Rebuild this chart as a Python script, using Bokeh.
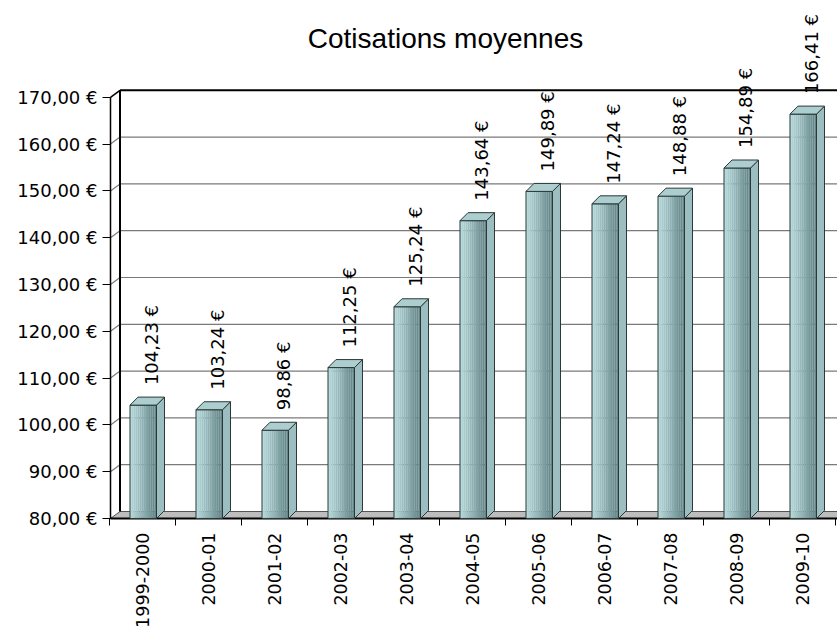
import numpy as np
from bokeh.plotting import figure
from bokeh.models import FixedTicker, Range1d, ColumnDataSource
from bokeh.core.properties import value
from bokeh.embed import file_html
from bokeh.resources import INLINE

# ---------------- data ----------------
title_text = "Cotisations moyennes"
categories = ["1999-2000", "2000-01", "2001-02", "2002-03", "2003-04", "2004-05",
              "2005-06", "2006-07", "2007-08", "2008-09", "2009-10"]
values = [104.23, 103.24, 98.86, 112.25, 125.24, 143.64, 149.89, 147.24, 148.88, 154.89, 166.41]
y_ticks = [80, 90, 100, 110, 120, 130, 140, 150, 160, 170]


def euro(v):
    return f"{v:.2f}".replace(".", ",") + " €"


# ---------------- layout (pixels) ----------------
W, H = 837, 632
frame_left = 108
origin_x = 109              # category 0 left edge
cat_px = 66.0               # pixels per category
y0_px = 518                 # pixel row of value 80
px_per_unit = 4.68          # pixels per euro

PX = 1.0 / cat_px
PY = 1.0 / px_per_unit
ymin = y_ticks[0]
ymax = y_ticks[-1]

x_start = (frame_left - origin_x) * PX
x_end = (W - origin_x) * PX
y_start = ymin - (H - y0_px) * PY
y_end = ymin + y0_px * PY

p = figure(width=W, height=H,
           x_range=Range1d(x_start, x_end), y_range=Range1d(y_start, y_end),
           output_backend="svg", toolbar_location=None,
           min_border_left=frame_left, min_border_right=0,
           min_border_top=0, min_border_bottom=0)
p.outline_line_color = None
p.grid.visible = False
p.background_fill_color = "white"
p.border_fill_color = "white"
p.xaxis.visible = False

# ---------------- y axis ----------------
ya = p.yaxis[0]
ya.ticker = FixedTicker(ticks=y_ticks, minor_ticks=[])
ya.major_label_overrides = {t: euro(t) for t in y_ticks}
ya.axis_line_color = None
ya.major_tick_out = 6
ya.major_tick_in = 2
ya.major_tick_line_color = "black"
ya.major_tick_line_width = 1
ya.minor_tick_line_color = None
ya.major_label_standoff = 5
ya.major_label_text_font = "DejaVu Sans"
ya.major_label_text_font_size = "18px"
ya.major_label_text_color = "black"

n = len(categories)
centers = [i + 0.5 for i in range(n)]
bounds = list(range(n + 1))

# ---------------- walls & floor ----------------
gx0 = 1.0 * PX               # front axis line
wdx, wdy = 9.5 * PX, 7 * PY  # depth of walls
inner = y_ticks[1:-1]

# back-wall gridlines
p.segment(x0=[gx0 + wdx] * len(inner), y0=[t + wdy for t in inner],
          x1=[x_end] * len(inner), y1=[t + wdy for t in inner],
          line_color="#7a7a7a", line_width=1.2)
# side-wall diagonals
p.segment(x0=[gx0] * len(inner), y0=inner,
          x1=[gx0 + wdx] * len(inner), y1=[t + wdy for t in inner],
          line_color="#7a7a7a", line_width=1.2)
# top edges
p.segment(x0=[gx0 + wdx], y0=[ymax + wdy], x1=[x_end], y1=[ymax + wdy],
          line_color="black", line_width=2)
p.segment(x0=[gx0], y0=[ymax], x1=[gx0 + wdx], y1=[ymax + wdy],
          line_color="black", line_width=1.5)
# floor
p.patch(x=[gx0, x_end, x_end, gx0 + wdx], y=[ymin, ymin, ymin + wdy, ymin + wdy],
        fill_color="#bdbdbd", line_color="#555555", line_width=1)
# vertical edges
p.segment(x0=[gx0 + wdx], y0=[ymin + wdy], x1=[gx0 + wdx], y1=[ymax + wdy],
          line_color="black", line_width=2)
p.segment(x0=[gx0], y0=[ymin], x1=[gx0], y1=[ymax],
          line_color="black", line_width=1.5)
# floor front edge (x axis line) and category boundary ticks
p.segment(x0=[gx0], y0=[ymin], x1=[x_end], y1=[ymin], line_color="black", line_width=2)
p.segment(x0=bounds, y0=[ymin] * len(bounds), x1=bounds, y1=[ymin - 7 * PY] * len(bounds),
          line_color="black", line_width=1)

# ---------------- bars ----------------
bw = 26.5 * PX
boff = 20.5 * PX
bdx, bdy = 8 * PX, 8 * PY
N = 14
c_left = np.array([182, 218, 220])
c_right = np.array([100, 133, 135])

sl, sr, st, sc = [], [], [], []
for i, v in enumerate(values):
    l = i + boff
    for k in range(N):
        f = k / (N - 1)
        c = (c_left * (1 - f) + c_right * f).astype(int)
        sl.append(l + k * bw / N)
        sr.append(l + (k + 1) * bw / N + 0.0005)
        st.append(v)
        sc.append("#%02x%02x%02x" % tuple(c))
p.quad(left=sl, right=sr, bottom=ymin, top=st, fill_color=sc, line_color=None)

lefts = [i + boff for i in range(n)]
rights = [l + bw for l in lefts]
p.quad(left=lefts, right=rights, bottom=ymin, top=values,
       fill_color=None, line_color="#2a3838", line_width=1)

side_xs = [[r, r + bdx, r + bdx, r] for r in rights]
side_ys = [[ymin, ymin + bdy, v + bdy, v] for v in values]
p.patches(xs=side_xs, ys=side_ys, fill_color="#9cbec0",
          line_color="#2a3838", line_width=1)

top_xs = [[l, r, r + bdx, l + bdx] for l, r in zip(lefts, rights)]
top_ys = [[v, v, v + bdy, v + bdy] for v in values]
p.patches(xs=top_xs, ys=top_ys, fill_color="#adcecf",
          line_color="#2a3838", line_width=1)

# ---------------- value labels ----------------
lab_src = ColumnDataSource(dict(
    x=[c + 9 * PX for c in centers],
    y=[v + 20 * PY for v in values],
    t=[euro(v) for v in values]))
p.text(x="x", y="y", text="t", source=lab_src, angle=np.pi / 2,
       text_align="left", text_baseline="middle",
       text_font=value("DejaVu Sans"), text_font_size="18px", text_color="black")

# ---------------- category labels ----------------
cat_src = ColumnDataSource(dict(x=centers, y=[ymin - 14 * PY] * n, t=categories))
p.text(x="x", y="y", text="t", source=cat_src, angle=np.pi / 2,
       text_align="right", text_baseline="middle",
       text_font=value("DejaVu Sans"), text_font_size="17.5px", text_color="black")

# ---------------- title ----------------
p.text(x=[(445 - origin_x) * PX], y=[ymin + (y0_px - 38) * PY], text=[title_text],
       text_align="center", text_baseline="middle",
       text_font=value("Liberation Sans"), text_font_size="28px", text_color="black")

open("out.html", "w").write(file_html(p, INLINE))
